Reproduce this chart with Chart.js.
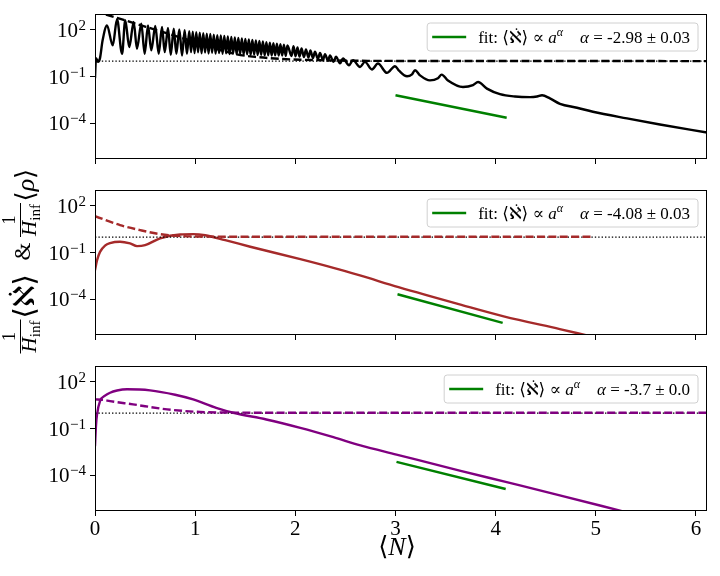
<!DOCTYPE html>
<html>
<head>
<meta charset="utf-8">
<script src="https://cdn.jsdelivr.net/npm/chart.js@4.4.1/dist/chart.umd.min.js"></script>
<style>
  html, body { margin: 0; padding: 0; background: #fff; }
  #wrap { position: relative; width: 720px; height: 576px; }
  #wrap canvas { position: absolute; left: 0; top: 0; }
</style>
</head>
<body>
<div id="wrap">
  <canvas id="c1" width="720" height="576"></canvas>
  <canvas id="c2" width="720" height="576"></canvas>
  <canvas id="c3" width="720" height="576"></canvas>
</div>
<script>
// x values are <N>, y values are stored as log10 of the plotted quantity

// panel 1 (black)
const n1Solid = [0, 0.010, 0.030, 0.050, 0.075,
  0.120, 0.177, 0.220, 0.270, 0.302, 0.342, 0.386, 0.419, 0.462, 0.496, 0.529, 0.562, 0.602, 0.636, 0.669,
  0.696, 0.729, 0.756, 0.786, 0.812, 0.842, 0.869, 0.895, 0.918, 0.941,
  0.959, 0.976, 0.994, 1.011, 1.029, 1.046, 1.064, 1.081, 1.099, 1.116, 1.134, 1.151, 1.169, 1.186,
  1.204, 1.221, 1.239, 1.256, 1.274, 1.291, 1.309, 1.326, 1.344, 1.361, 1.379, 1.396, 1.414, 1.431,
  1.449, 1.466, 1.484, 1.501, 1.519, 1.536, 1.554, 1.571, 1.589, 1.606, 1.624, 1.641, 1.659, 1.676,
  1.694, 1.711, 1.729, 1.746, 1.764, 1.781, 1.799, 1.816, 1.834, 1.851, 1.869, 1.886, 1.904, 1.921,
  1.962, 1.982, 2.002, 2.022, 2.042, 2.062, 2.086, 2.106, 2.131, 2.151, 2.176, 2.196, 2.226, 2.246,
  2.276, 2.296, 2.326, 2.346, 2.381, 2.406, 2.446, 2.476, 2.536, 2.576, 2.646, 2.695, 2.765, 2.825,
  2.915, 2.995,
  3.035, 3.115, 3.165, 3.195, 3.245, 3.344, 3.424, 3.461, 3.524, 3.674, 3.774, 3.824, 3.913, 4.043,
  4.193, 4.343, 4.413, 4.463, 4.542, 4.642, 4.812, 4.971, 5.311, 5.640, 6.110];
const e1Solid = [-1.10, 0.19, -0.05, 0.19, 1.30,
  2.30, 1.01, 2.69, 0.47, 2.63, 0.90, 2.52, 0.79, 2.41, 0.47, 2.30, 0.69, 2.26, 0.47, 2.19,
  0.58, 2.13, 0.40, 2.08, 0.47, 2.04, 0.36, 1.98, 0.47, 1.92,
  0.58, 1.89, 0.52, 1.86, 0.57, 1.82, 0.50, 1.80, 0.55, 1.76, 0.49, 1.74, 0.53, 1.70,
  0.48, 1.67, 0.52, 1.65, 0.47, 1.61, 0.50, 1.58, 0.45, 1.56, 0.48, 1.52, 0.44, 1.49,
  0.46, 1.46, 0.42, 1.43, 0.44, 1.39, 0.41, 1.36, 0.42, 1.33, 0.39, 1.29, 0.40, 1.26,
  0.37, 1.22, 0.38, 1.19, 0.36, 1.15, 0.37, 1.12, 0.35, 1.08, 0.35, 1.05, 0.34, 1.01,
  0.33, 0.95, 0.31, 0.88, 0.29, 0.82, 0.26, 0.75, 0.23, 0.68, 0.19, 0.60, 0.14, 0.52,
  0.08, 0.45, 0.02, 0.37, -0.05, 0.28, -0.15, 0.17, -0.27, 0.06, -0.38, -0.05, -0.54, -0.16,
  -0.76, -0.33,
  -0.62, -0.98, -0.85, -0.59, -0.92, -1.24, -1.10, -0.87, -1.25, -1.67, -1.55, -1.35, -1.77, -2.13,
  -2.28, -2.32, -2.28, -2.20, -2.40, -2.75, -3.00, -3.26, -3.69, -4.08, -4.60];
const n1Dashed = [0, 0.08, 0.22, 0.50, 0.80, 1.10, 1.40, 1.60, 1.85, 2.10, 2.50, 3.00, 6.11];
const e1Dashed = [3.20, 3.05, 2.78, 2.22, 1.62, 1.02, 0.45, 0.27, 0.14, 0.08, 0.03, 0.01, 0.00];

// panel 2 (brown)
const n2Solid = [0, 0.02, 0.05, 0.10, 0.15, 0.25, 0.35, 0.42, 0.50, 0.65, 0.85, 0.98, 1.10, 1.30,
  1.55, 2.05, 2.38, 2.645, 3.03, 3.64, 4.08, 4.64, 4.91];
const e2Solid = [-2.13, -1.50, -0.95, -0.55, -0.39, -0.30, -0.41, -0.58, -0.52, -0.08, 0.17, 0.19, 0.12, -0.20,
  -0.62, -1.42, -1.98, -2.47, -3.22, -4.33, -5.10, -5.92, -6.32];
const n2Dashed = [0, 0.25, 0.45, 0.65, 0.85, 1.20, 1.60, 4.95];
const e2Dashed = [1.35, 0.77, 0.45, 0.19, 0.07, 0.03, 0.02, 0.02];

// panel 3 (purple)
const n3Solid = [0, 0.01, 0.02, 0.05, 0.10, 0.15, 0.22, 0.32, 0.55, 0.80, 0.98, 1.21, 1.38, 1.71,
  2.05, 2.38, 2.65, 3.01, 3.64, 4.10, 4.64, 5.27];
const e3Solid = [-2.13, -0.80, -0.10, 0.77, 1.12, 1.31, 1.45, 1.53, 1.46, 1.18, 0.88, 0.34, 0.02, -0.41,
  -0.95, -1.55, -2.08, -2.67, -3.70, -4.43, -5.29, -6.32];
const n3Dashed = [0, 0.08, 0.15, 0.38, 0.72, 1.05, 1.40, 2.00, 6.11];
const e3Dashed = [0.88, 0.85, 0.77, 0.56, 0.24, 0.07, 0.03, 0.02, 0.02];

// power-law fits (green)
const fitN1 = [3.00, 4.11], fitE1 = [-2.20, -3.64];
const fitN2 = [3.02, 4.07], fitE2 = [-3.68, -5.52];
const fitN3 = [3.01, 4.10], fitE3 = [-3.14, -4.88];
const alphaText = ['-2.98 \u00b1 0.03', '-4.08 \u00b1 0.03', '-3.7 \u00b1 0.0'];

// dotted reference level
const dottedN = [0, 6.11];
const refLevel = 1;

const xTicks = [0, 1, 2, 3, 4, 5, 6];
const yTicks = [1e-4, 1e-1, 1e2];
const yTickExp = ['\u22124', '\u22121', '2'];

const SERIF = '"Liberation Serif", "DejaVu Serif", "DejaVu Sans", serif';
const X_MAX = 6.11;
const Y_MIN = 5.01e-7, Y_MAX = 1.07e3;
const PANEL_H = 145, XAXIS_H = 30;

function pts(xs, es) {
  return xs.map((x, i) => ({ x: x, y: Math.pow(10, es[i]) }));
}

function lineSet(data, color, width, dash, smooth) {
  return {
    data: data,
    borderColor: color,
    borderWidth: width,
    borderDash: dash,
    borderCapStyle: 'butt',
    borderJoinStyle: 'round',
    pointRadius: 0,
    fill: false,
    tension: 0,
    cubicInterpolationMode: smooth ? 'monotone' : 'default'
  };
}

function put(ctx, text, font, x, y) {
  ctx.font = font;
  ctx.fillText(text, x, y);
  return x + ctx.measureText(text).width;
}

function alephDot(ctx, x0, x1, base, size) {
  ctx.beginPath();
  ctx.arc(x0 + (x1 - x0) * 0.6, base - size * 0.82, size * 0.05, 0, 2 * Math.PI);
  ctx.fill();
}

function drawLegend(ctx, a, alpha) {
  const fs = 17;
  const up = fs + 'px ' + SERIF, it = 'italic ' + fs + 'px ' + SERIF, sup = 'italic 12px ' + SERIF;
  const parts = [
    [up, 'fit: ', 0], [up, '\u27e8', 0], [up, '\u2135', 0, true], [up, '\u27e9 \u221d ', 0],
    [it, 'a', 0], [sup, '\u03b1', -7], [up, '    ', 0], [it, '\u03b1', 0], [up, ' = ' + alpha, 0]
  ];
  let w = 0;
  parts.forEach(p => { ctx.font = p[0]; p.w = ctx.measureText(p[1]).width; w += p.w; });
  const right = a.right - 9, top = a.top + 9, h = 28;
  const textX = right - 8 - w;
  const lx1 = textX - 12, lx0 = lx1 - 34, left = lx0 - 5;
  const r = 3;
  ctx.beginPath();
  ctx.moveTo(left + r, top);
  ctx.lineTo(right - r, top); ctx.arcTo(right, top, right, top + r, r);
  ctx.lineTo(right, top + h - r); ctx.arcTo(right, top + h, right - r, top + h, r);
  ctx.lineTo(left + r, top + h); ctx.arcTo(left, top + h, left, top + h - r, r);
  ctx.lineTo(left, top + r); ctx.arcTo(left, top, left + r, top, r);
  ctx.closePath();
  ctx.fillStyle = 'rgba(255,255,255,0.8)';
  ctx.fill();
  ctx.strokeStyle = '#d0d0d0';
  ctx.lineWidth = 1;
  ctx.stroke();

  ctx.strokeStyle = 'green';
  ctx.lineWidth = 2.5;
  ctx.beginPath();
  ctx.moveTo(lx0, top + 14);
  ctx.lineTo(lx1, top + 14);
  ctx.stroke();

  ctx.fillStyle = '#000';
  ctx.textAlign = 'left';
  ctx.textBaseline = 'alphabetic';
  let x = textX;
  const base = top + 20;
  parts.forEach(p => {
    ctx.font = p[0];
    ctx.fillText(p[1], x, base + p[2]);
    if (p[3]) alephDot(ctx, x, x + p.w, base, fs);
    x += p.w;
  });
}

function drawFrac(ctx, cx) {
  ctx.font = '18px ' + SERIF;
  const w1 = ctx.measureText('1').width;
  ctx.fillText('1', cx - w1 / 2, 15);
  ctx.lineWidth = 1;
  ctx.beginPath();
  ctx.moveTo(cx - 17, 20.5);
  ctx.lineTo(cx + 17, 20.5);
  ctx.stroke();
  ctx.font = 'italic 21px ' + SERIF;
  const wH = ctx.measureText('H').width;
  ctx.font = '15px ' + SERIF;
  const wi = ctx.measureText('inf').width;
  const x0 = cx - (wH + wi) / 2;
  put(ctx, 'H', 'italic 21px ' + SERIF, x0, 36);
  put(ctx, 'inf', '15px ' + SERIF, x0 + wH, 40);
}

function drawYLabel(ctx) {
  ctx.save();
  ctx.translate(0, 262.5);
  ctx.rotate(-Math.PI / 2);
  ctx.fillStyle = '#000';
  ctx.strokeStyle = '#000';
  ctx.textAlign = 'left';
  ctx.textBaseline = 'alphabetic';
  const base = 34;
  drawFrac(ctx, -74);
  let x = put(ctx, '\u27e8', '29px ' + SERIF, -56, base);
  const ax = x;
  x = put(ctx, '\u2135', '29px ' + SERIF, x, base);
  alephDot(ctx, ax, x, base, 29);
  put(ctx, '\u27e9', '29px ' + SERIF, x, base);
  put(ctx, '&', '23px ' + SERIF, 2, base - 4);
  drawFrac(ctx, 42.5);
  x = put(ctx, '\u27e8', '26px ' + SERIF, 61, base);
  x = put(ctx, '\u03c1', 'italic 26px ' + SERIF, x, base);
  put(ctx, '\u27e9', '26px ' + SERIF, x, base);
  ctx.restore();
}

function drawXLabel(ctx, a) {
  const parts = [['26px ', '\u27e8'], ['italic 26px ', 'N'], ['26px ', '\u27e9']];
  let w = 0;
  parts.forEach(p => { ctx.font = p[0] + SERIF; p.w = ctx.measureText(p[1]).width; w += p.w; });
  let x = 397 - w / 2;
  ctx.fillStyle = '#000';
  ctx.textAlign = 'left';
  ctx.textBaseline = 'alphabetic';
  parts.forEach(p => { x = put(ctx, p[1], p[0] + SERIF, x, 555); });
}

const panelDeco = {
  id: 'panelDeco',
  afterDraw(chart, args, o) {
    const ctx = chart.ctx, a = chart.chartArea;
    ctx.save();
    // axes frame
    ctx.strokeStyle = '#000';
    ctx.lineWidth = 1;
    ctx.strokeRect(Math.round(a.left) + 0.5, Math.round(a.top) + 0.5,
      Math.round(a.right - a.left) - 1, Math.round(a.bottom - a.top) - 1);
    // log tick labels 10^k
    const ys = chart.scales.y;
    ctx.fillStyle = '#000';
    ctx.textAlign = 'left';
    ctx.textBaseline = 'alphabetic';
    yTicks.forEach((v, i) => {
      const py = ys.getPixelForValue(v);
      const e = yTickExp[i];
      ctx.font = '15px ' + SERIF;
      const we = ctx.measureText(e).width;
      ctx.font = '21px ' + SERIF;
      const wb = ctx.measureText('10').width;
      const right = a.left - 9;
      put(ctx, e, '15px ' + SERIF, right - we, py);
      put(ctx, '10', '21px ' + SERIF, right - we - wb - 0.5, py + 7);
    });
    drawLegend(ctx, a, o.alpha);
    if (o.yLabel) drawYLabel(ctx);
    if (o.xLabel) drawXLabel(ctx, a);
    ctx.restore();
  }
};

const axisGrid = {
  display: true, drawOnChartArea: false, drawTicks: true,
  tickLength: 5, tickWidth: 1, tickColor: '#000', color: '#000', lineWidth: 1
};

const panels = [
  { id: 'c1', top: 14, color: '#000000', sN: n1Solid, sE: e1Solid, dN: n1Dashed, dE: e1Dashed, fN: fitN1, fE: fitE1 },
  { id: 'c2', top: 190, color: '#a52a2a', sN: n2Solid, sE: e2Solid, dN: n2Dashed, dE: e2Dashed, fN: fitN2, fE: fitE2 },
  { id: 'c3', top: 366, color: '#800080', sN: n3Solid, sE: e3Solid, dN: n3Dashed, dE: e3Dashed, fN: fitN3, fE: fitE3 }
];

panels.forEach((p, k) => {
  const last = k === panels.length - 1;
  const dotted = dottedN.map(x => ({ x: x, y: refLevel }));
  new Chart(document.getElementById(p.id), {
    type: 'line',
    data: {
      datasets: [
        lineSet(pts(p.fN, p.fE), 'green', 2.5, [], false),
        lineSet(pts(p.dN, p.dE), p.color, 2.4, [8, 3.4], true),
        lineSet(dotted, '#000000', 1.4, [1.4, 2], false),
        lineSet(pts(p.sN, p.sE), p.color, 2.4, [], true)
      ]
    },
    options: {
      responsive: false,
      animation: false,
      events: [],
      devicePixelRatio: 1,
      layout: { padding: { left: 0, right: 13, top: p.top, bottom: 576 - p.top - PANEL_H - XAXIS_H } },
      plugins: {
        legend: { display: false },
        tooltip: { enabled: false },
        panelDeco: { alpha: alphaText[k], yLabel: k === 1, xLabel: last }
      },
      scales: {
        x: {
          type: 'linear', min: 0, max: X_MAX,
          afterBuildTicks: s => { s.ticks = xTicks.map(v => ({ value: v })); },
          afterFit: s => { s.height = XAXIS_H; },
          grid: axisGrid,
          border: { display: false },
          ticks: { display: last, color: '#000', padding: 1, maxRotation: 0, font: { family: SERIF, size: 21 } }
        },
        y: {
          type: 'logarithmic', min: Y_MIN, max: Y_MAX,
          afterBuildTicks: s => { s.ticks = yTicks.map(v => ({ value: v })); },
          afterFit: s => { s.width = 95; },
          grid: axisGrid,
          border: { display: false },
          ticks: { display: false }
        }
      }
    },
    plugins: [panelDeco]
  });
});
</script>
</body>
</html>
